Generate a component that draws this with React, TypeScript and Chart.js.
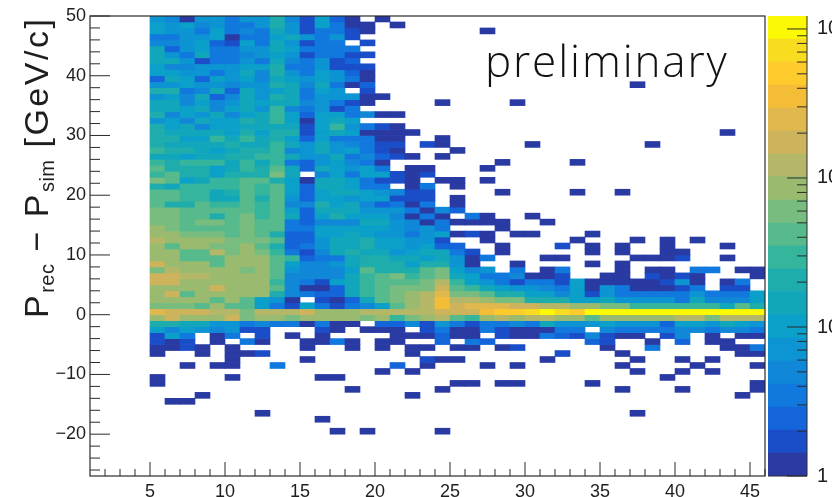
import React, { useEffect, useRef } from "react";
import { Chart, registerables } from "chart.js";

Chart.register(...registerables);

const gap = (n: number) => ".".repeat(n);

// palette bands, lowest to highest
const palette = [
  "#2a3aa3", "#1a4ec9", "#1465da", "#1179de", "#1087d7", "#0d94d2", "#0aa0ca", "#12a6bb", "#1eadac", "#36b59d",
  "#57ba8d", "#78bd7f", "#9abb6f", "#b5b768", "#cdb45c", "#e0b84d", "#f4bd38", "#fdcb2c", "#f8dc1f", "#fbf904",
];
const bandEdges = [1, 1.43, 2.03, 2.9, 4.14, 5.9, 8.42, 12, 17.2, 24.5, 35, 49.9, 71.2, 102, 145, 207, 295, 421, 601, 857, 1222];
const levelDigits = "0123456789abcdefghij";

// top row = 49..50, each next row one unit lower; first column = 5..6
const cellRows: string[] = [
  "54055355841620.0",
  "65645335851630" + "0.0",
  "65536343751331" + "0" + gap(7) + "0",
  "33556033675351",
  "4456216375133." + "1",
  "72563355763333",
  "75373345651331" + "1",
  "77513353743512",
  "64455566833511" + "1",
  "66553574853652" + "0",
  "27626564765653" + "0",
  "55655455874730" + "2" + gap(17) + "0",
  "8834727567365." + "1",
  "56472475873555" + "00",
  "77464576774531" + "0....0....0",
  "77674675943513",
  "84657467962663" + "400",
  "56476687960676",
  "86746677771695" + "310",
  "87777686881676" + "0000" + gap(20) + "0",
  "88669797862633" + "300..0",
  "87777877975754" + "311.10.....0" + gap(7) + "0",
  "98876788945756" + "310...0",
  "77677889975573" + "4210.0",
  "98999797932564" + "30" + gap(7) + "0" + gap(4) + "0",
  "a8886798a72765" + "63.00...0",
  "9a886888b7.463" + "66101",
  "ba6799aa860776" + "3110.00.0",
  "879999a9a62776" + "33.03.0",
  "aa9978a9a62677" + "65411....0....0..0",
  "aa9977a8a52665" + "66111.0",
  "a88a99a9a44867" + "42303.0",
  "bbaaaaa9a62777" + "5553042",
  "bbaa8ab9a72686" + "664030.30..0",
  "bbabbabaa32444" + "7754030000..0",
  "cbaaaabaa33666" + "665453...0",
  "ccbbbaba822667" + "655356010.00...0",
  "dccccbbba22577" + "866551..0.....0...0.0.0",
  "caccbbca823577" + "8665622..0...1.0.0..0...0",
  "ccaadbcb931478" + "77567731.0.....0.0..00",
  "ccaaaccca92337" + "887767503...00....0001..0",
  "ecccaccca64457" + "88868850..0....0.0",
  "bdccccbca54446" + "a888ab645.3.03...0.00.33.00",
  "eeddcccca44447" + "9ab9ab76334001..00.1010...0",
  "eecccccc943167" + "9aaabd96531331" + "600000150.03.",
  "cccceccca40027" + "9abbbea9765543" + "605300013.11.",
  "ceaccccc843227" + "9abcdfbba88664" + "6153333353336",
  "ccccaca650.102" + "7abcdgddcbb888" + "6675555374446",
  "bbbacaa6316313" + "46acdgefffeedd" + "ccbb9999997a8",
  "feeeddbdddeccc" + "dddddeeeghhiji" + "hjjjjjjjjjjjj",
  "cecccebccbcccc" + "bc9bcda9cdcddc" + "cacccccddbddd",
  "88775534330300" + ".2241531334375" + "5565552665765",
  "64654511...10." + "000.1300310003" + "3.43333443443",
  "163.03.1.0.0.." + "..000200.10032" + "14100.14.0.00",
  "101.0.30..0030" + ".00..2.32....." + ".21..0.2.00",
  "0010.0....0..0" + ".0.00.00.01..." + "..0..3....003",
  "0..0.001......" + "...0.........1" + "...0.......00",
  ".....0....0..." + "....100.....0." + "....0..0.0",
  "..0.00..3....." + "..2.0...0.0..." + "...0....0...0",
  gap(14) + ".0.0" + gap(14) + "0..0.0",
  "0....0.....00." + gap(20) + "0",
  "0" + gap(13) + gap(6) + "00.00" + gap(4) + "0" + gap(10) + "0",
  gap(13) + "0" + gap(5) + "0" + gap(11) + "0...0....0",
  "...0" + gap(13) + "0" + gap(21) + "0",
  ".00",
  "",
  ".......0" + gap(24) + "0",
  "...........0",
  "",
  gap(12) + "0.0....0",
];

const firstColumn = 5;
const topEdge = 50;
const xRange = [1, 46];
const yRange = [-27, 50];
const xLabels = [5, 10, 15, 20, 25, 30, 35, 40, 45];
const xMinor = [2, 3, 4, 6, 7, 8, 9, 11, 12, 13, 14, 16, 17, 18, 19, 21, 22, 23, 24, 26, 27, 28, 29, 31, 32, 33, 34, 36, 37, 38, 39, 41, 42, 43, 44, 46];
const yLabels = [-20, -10, 0, 10, 20, 30, 40, 50];
const yMinor = [-26, -24, -22, -18, -16, -14, -12, -8, -6, -4, -2, 2, 4, 6, 8, 12, 14, 16, 18, 22, 24, 26, 28, 32, 34, 36, 38, 42, 44, 46, 48];
const barLabels = [1, 10, 100, 1000];
const barMinor = [2, 3, 4, 5, 6, 7, 8, 9, 20, 30, 40, 50, 60, 70, 80, 90, 200, 300, 400, 500, 600, 700, 800, 900];

const FONT = "'Liberation Sans', Arial, sans-serif";
const INK = "#2b2b2b";

const line = (c: CanvasRenderingContext2D, x1: number, y1: number, x2: number, y2: number) => {
  c.beginPath();
  c.moveTo(x1, y1);
  c.lineTo(x2, y2);
  c.stroke();
};

const heatFrame = {
  id: "heatFrame",
  afterDraw(chart: any) {
    const { ctx: c, chartArea: a, scales } = chart;
    c.save();
    c.strokeStyle = INK;
    c.lineWidth = 1.2;
    c.strokeRect(a.left, a.top, a.right - a.left, a.bottom - a.top);
    c.lineWidth = 1;
    xLabels.forEach((v) => line(c, scales.x.getPixelForValue(v), a.bottom, scales.x.getPixelForValue(v), a.bottom - 14));
    xMinor.forEach((v) => line(c, scales.x.getPixelForValue(v), a.bottom, scales.x.getPixelForValue(v), a.bottom - 7));
    yLabels.forEach((v) => line(c, a.left, scales.y.getPixelForValue(v), a.left + 20, scales.y.getPixelForValue(v)));
    yMinor.forEach((v) => line(c, a.left, scales.y.getPixelForValue(v), a.left + 10, scales.y.getPixelForValue(v)));
    c.restore();
  },
};

const barFrame = {
  id: "barFrame",
  afterDraw(chart: any) {
    const { ctx: c, chartArea: a, scales } = chart;
    c.save();
    c.strokeStyle = INK;
    c.lineWidth = 1;
    line(c, a.right, a.top, a.right, a.bottom);
    line(c, a.left, a.bottom, a.right, a.bottom);
    barLabels.forEach((v) => line(c, a.right, scales.y.getPixelForValue(v), a.right - 20, scales.y.getPixelForValue(v)));
    barMinor.forEach((v) => line(c, a.right, scales.y.getPixelForValue(v), a.right - 10, scales.y.getPixelForValue(v)));
    c.restore();
  },
};

function heatDatasets() {
  return cellRows.map((row, r) => {
    const data: any[] = [];
    const colors: string[] = [];
    row.split("").forEach((ch, c) => {
      if (ch === ".") return;
      data.push({ x: firstColumn + c + 0.5, y: [topEdge - r - 1, topEdge - r] });
      colors.push(palette[levelDigits.indexOf(ch)]);
    });
    return { data, backgroundColor: colors, borderWidth: 0, barPercentage: 1, categoryPercentage: 1, grouped: false };
  });
}

const noEdgePadding = (s: any) => {
  s.paddingTop = 0;
  s.paddingBottom = 0;
  s.paddingLeft = 0;
  s.paddingRight = 0;
};

export default function App() {
  const heatRef = useRef<HTMLCanvasElement>(null);
  const barRef = useRef<HTMLCanvasElement>(null);

  useEffect(() => {
    const heat = new Chart(heatRef.current!, {
      type: "bar",
      data: { datasets: heatDatasets() as any },
      plugins: [heatFrame],
      options: {
        animation: false,
        responsive: false,
        events: [],
        layout: { padding: { top: 16, right: 67, left: 0, bottom: 0 } },
        plugins: { legend: { display: false }, tooltip: { enabled: false } },
        scales: {
          x: {
            type: "linear",
            min: xRange[0],
            max: xRange[1],
            offset: false,
            grid: { display: false, drawTicks: false },
            border: { display: false },
            afterBuildTicks: (s: any) => { s.ticks = xLabels.map((value) => ({ value })); },
            afterFit: (s: any) => { s.height = 21; noEdgePadding(s); },
            ticks: { color: "#1e1e1e", padding: 5, maxRotation: 0, autoSkip: false, font: { family: FONT, size: 18 } },
          },
          y: {
            type: "linear",
            min: yRange[0],
            max: yRange[1],
            grid: { display: false, drawTicks: false },
            border: { display: false },
            afterBuildTicks: (s: any) => { s.ticks = yLabels.map((value) => ({ value })); },
            afterFit: (s: any) => { s.width = 90; noEdgePadding(s); },
            ticks: {
              color: "#1e1e1e",
              padding: 4,
              autoSkip: false,
              font: { family: FONT, size: 18 },
              callback: (v: any) => (v < 0 ? "\u2212" + Math.abs(v) : String(v)),
            },
          },
        },
      } as any,
    });

    const bar = new Chart(barRef.current!, {
      type: "bar",
      data: {
        labels: ["z"],
        datasets: palette.map((color, i) => ({
          data: [[bandEdges[i], bandEdges[i + 1]]],
          backgroundColor: color,
          borderWidth: 0,
          barPercentage: 1,
          categoryPercentage: 1,
          grouped: false,
        })) as any,
      },
      plugins: [barFrame],
      options: {
        animation: false,
        responsive: false,
        events: [],
        layout: { padding: { top: 16, bottom: 21, left: 0, right: 0 } },
        plugins: { legend: { display: false }, tooltip: { enabled: false } },
        scales: {
          x: { display: false },
          y: {
            type: "logarithmic",
            position: "right",
            min: bandEdges[0],
            max: bandEdges[bandEdges.length - 1],
            grid: { display: false, drawTicks: false },
            border: { display: false },
            afterBuildTicks: (s: any) => { s.ticks = barLabels.map((value) => ({ value })); },
            afterFit: (s: any) => { s.width = 25; noEdgePadding(s); },
            ticks: {
              color: "#1e1e1e",
              padding: 10,
              autoSkip: false,
              font: { family: FONT, size: 20 },
              callback: (v: any) => (v === 1 ? "1" : "10"),
            },
          },
        },
      } as any,
    });

    return () => {
      heat.destroy();
      bar.destroy();
    };
  }, []);

  return (
    <div style={{ position: "fixed", inset: 0, background: "#fff", overflow: "hidden" }}>
      <canvas ref={heatRef} width={832} height={497} style={{ position: "absolute", left: 0, top: 0, display: "block" }} />
      <canvas ref={barRef} width={64} height={497} style={{ position: "absolute", left: 768, top: 0, display: "block" }} />
      <div
        style={{
          position: "absolute",
          left: 485,
          top: 33,
          fontFamily: "'Open Sans', sans-serif",
          fontWeight: 300,
          fontSize: 44,
          lineHeight: "54px",
          letterSpacing: 1.9,
          color: "#111",
          whiteSpace: "nowrap",
        }}
      >
        preliminary
      </div>
      <div
        style={{
          position: "absolute",
          left: 36,
          top: 318,
          transformOrigin: "0 0",
          transform: "rotate(-90deg) translateY(-50%)",
          fontFamily: FONT,
          fontSize: 34,
          lineHeight: "40px",
          letterSpacing: 2.5,
          color: "#1e1e1e",
          whiteSpace: "nowrap",
        }}
      >
        P<sub style={{ fontSize: 20, letterSpacing: 0.5, verticalAlign: "-6px", lineHeight: 0 }}>rec</sub> {"\u2212"} P
        <sub style={{ fontSize: 20, letterSpacing: 0.5, verticalAlign: "-6px", lineHeight: 0 }}>sim</sub> [GeV/c]
      </div>
    </div>
  );
}
